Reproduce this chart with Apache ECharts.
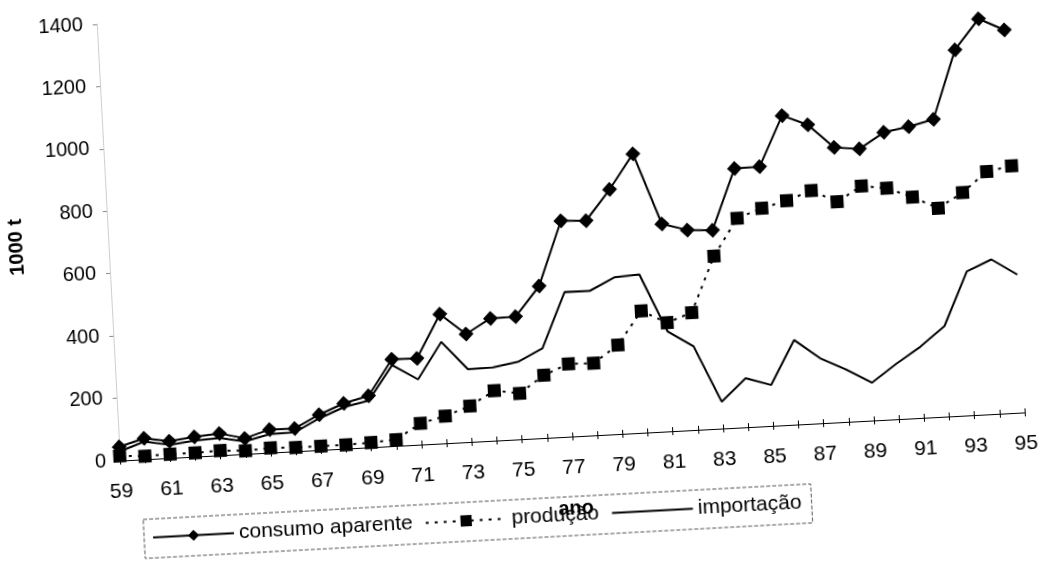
<!DOCTYPE html>
<html>
<head>
<meta charset="utf-8">
<script src="https://cdn.jsdelivr.net/npm/echarts@6/dist/echarts.min.js"></script>
<style>
	html, body {
		margin: 0;
		padding: 0;
		background: #fff;
		overflow: hidden;
	}
	.chart-out-box {
		position: absolute;
		left: -40px;
		top: -40px;
		width: 1123px;
		height: 642px;
		/* scanned page is slightly tilted */
		transform: rotate(-3.05deg);
		transform-origin: 50% 50%;
	}
</style>
</head>
<body>
<div id="chart" class="chart-out-box"></div>
<script>
	const anos = ['59','60','61','62','63','64','65','66','67','68','69',
		'70','71','72','73','74','75','76','77','78','79',
		'80','81','82','83','84','85','86','87','88','89',
		'90','91','92','93','94','95']
	const consumoAparente = [44, 67, 54, 63, 70, 50, 74, 73, 113, 145, 165,
		278, 276, 414, 346, 392, 393, 487, 692, 688, 784,
		894, 665, 641, 636, 830, 831, 991, 957, 880, 871,
		920, 934, 953, 1172, 1267, 1227]
	const producao = [15, 10, 12, 12, 15, 10, 15, 12, 12, 12, 15,
		20, 68, 87, 115, 160, 147, 201, 233, 231, 285,
		390, 348, 376, 553, 670, 698, 718, 746, 706, 752,
		741, 708, 668, 714, 777, 791]
	const importacao = [29, 57, 42, 51, 55, 40, 59, 61, 101, 133, 150,
		259, 209, 325, 233, 235, 248, 287, 464, 463, 502,
		507, 320, 268, 86, 157, 131, 271, 208, 168, 121,
		177, 228, 290, 461, 495, 442]
	const yTicks = { min: 0, max: 1400, interval: 200 }

	const font = "'Liberation Sans', Arial, sans-serif"

	let myChart = echarts.init(document.getElementById('chart'))
	let options = {
		animation: false,
		textStyle: { fontFamily: font, color: '#000' },
		grid: {
			left: 151,
			top: 42,
			width: 906,
			height: 437
		},
		legend: {
			left: 171,
			top: 539,
			itemWidth: 81,
			itemHeight: 14,
			itemGap: 12,
			padding: [8, 10, 10, 8],
			borderColor: '#555',
			borderWidth: 1,
			borderType: 'dashed',
			textStyle: { fontSize: 21, color: '#000', fontFamily: font },
			data: [
				'consumo aparente',
				'produção',
				// line only, no marker
				{ name: 'importação', itemStyle: { opacity: 0 } }
			]
		},
		xAxis: [{
			type: 'category',
			data: anos,
			boundaryGap: false,
			name: 'ano',
			nameLocation: 'middle',
			nameGap: 62,
			nameTextStyle: { fontSize: 20, fontWeight: 'bold', color: '#000' },
			axisLine: { lineStyle: { color: '#000', width: 1 } },
			axisTick: { interval: 0, inside: true, length: 4, lineStyle: { color: '#000' } },
			axisLabel: { interval: 1, fontSize: 21, color: '#000', margin: 21 }
		}, {
			// second copy only for the downward half of the crossing ticks
			type: 'category',
			data: anos,
			boundaryGap: false,
			position: 'bottom',
			axisLine: { show: false },
			axisTick: { interval: 0, length: 4, lineStyle: { color: '#000' } },
			axisLabel: { show: false }
		}],
		yAxis: {
			type: 'value',
			min: yTicks.min,
			max: yTicks.max,
			interval: yTicks.interval,
			name: '1000 t',
			nameLocation: 'middle',
			nameGap: 82,
			nameTextStyle: { fontSize: 20, fontWeight: 'bold', color: '#000' },
			axisLine: { show: true, lineStyle: { color: '#c4c4c4', type: 'dotted', width: 1 } },
			axisTick: { show: true, length: 4, lineStyle: { color: '#888' } },
			axisLabel: {
				fontSize: 20,
				color: '#000',
				margin: 14,
				formatter: (val) => String(val)
			},
			splitLine: { show: false }
		},
		series: [
			{
				name: 'consumo aparente',
				type: 'line',
				data: consumoAparente,
				symbol: 'diamond',
				symbolSize: 15,
				itemStyle: { color: '#000' },
				lineStyle: { color: '#000', width: 2 },
				z: 3
			},
			{
				name: 'produção',
				type: 'line',
				data: producao,
				symbol: 'rect',
				symbolSize: 13,
				itemStyle: { color: '#000' },
				lineStyle: { color: '#000', width: 2, type: [3, 6] },
				z: 2
			},
			{
				name: 'importação',
				type: 'line',
				data: importacao,
				symbol: 'none',
				itemStyle: { color: '#000' },
				lineStyle: { color: '#000', width: 2 },
				z: 1
			}
		]
	}
	myChart.setOption(options)
	window.addEventListener('resize', () => {
		myChart.resize()
	})
</script>
</body>
</html>
